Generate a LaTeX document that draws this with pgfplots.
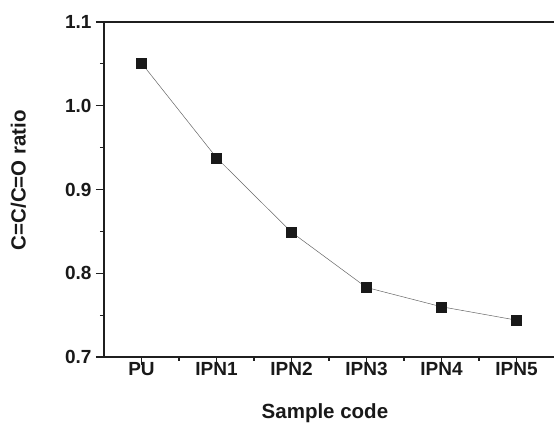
\documentclass[border=0pt]{standalone}
\usepackage{fontspec}
\setmainfont{Liberation Sans}
\usepackage{pgfplots}
\pgfplotsset{compat=1.18}
\begin{document}
\begin{tikzpicture}
\begin{axis}[name=ax, scale only axis, width=450bp, height=335bp,
  xmin=-0.5, xmax=5.5, ymin=0.7, ymax=1.1,
  axis x line*=box, axis y line*=left,
  xtick pos=left,
  tick align=outside,
  major tick length=8bp, minor tick length=4bp,
  minor x tick num=1, minor y tick num=1,
  xtick={0,1,2,3,4,5},
  xticklabels={PU,IPN1,IPN2,IPN3,IPN4,IPN5},
  ytick={0.7,0.8,0.9,1.0,1.1},
  /pgf/number format/assume math mode=true,
  yticklabel style={/pgf/number format/fixed, /pgf/number format/precision=1, /pgf/number format/fixed zerofill, xshift=-1bp},
  xticklabel style={yshift=6bp},
  tick label style={font=\bfseries\fontsize{19bp}{21bp}\selectfont, text=black!90},
  axis line style={line width=1.7bp, black!88},
  every tick/.style={line width=1.2bp, black!88},
  xlabel={Sample code}, ylabel={C=C/C=O ratio},
  label style={font=\bfseries\fontsize{20.5bp}{22bp}\selectfont, text=black!90},
  xlabel style={at={(axis description cs:0.491,-0.185)}, anchor=base},
  ylabel style={at={(axis description cs:-0.19,0.528)}, anchor=center},
]
\addplot[line width=0.5bp, black!60, mark=square*, mark size=5bp,
  mark options={fill=black!90, draw=black!90, line width=0.3bp}]
  coordinates {(0,1.051) (1,0.938) (2,0.849) (3,0.783) (4,0.760) (5,0.744)};
\end{axis}
\pgfresetboundingbox
\path (ax.south west) ++(-104bp,-67bp) rectangle ([yshift=22bp]ax.north east);
\end{tikzpicture}
\end{document}
